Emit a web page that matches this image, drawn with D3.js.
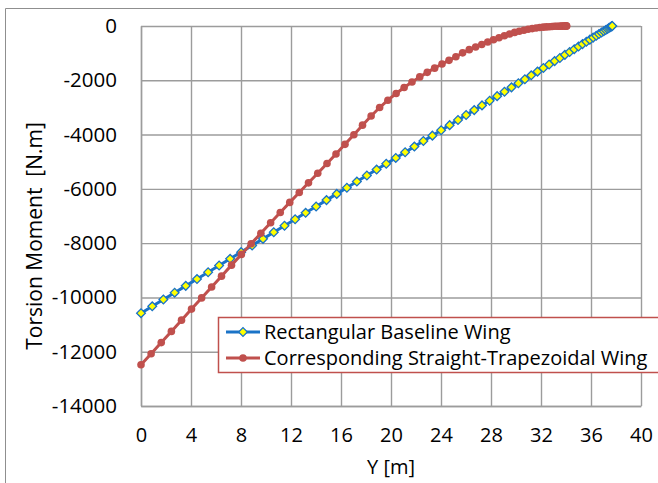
<!DOCTYPE html>
<html>
<head>
<meta charset="utf-8">
<script src="https://cdn.jsdelivr.net/npm/d3@7"></script>
<style>
  html, body { margin: 0; padding: 0; background: #fff; }
  svg { display: block; font-family: "Open Sans", Lato, sans-serif; }
</style>
</head>
<body>
<svg id="chart" width="658" height="483"></svg>
<script>
// ---- data ----
const xTicks = [0, 4, 8, 12, 16, 20, 24, 28, 32, 36, 40];
const yTicks = [0, -2000, -4000, -6000, -8000, -10000, -12000, -14000];

const rectY = [0, 0.90, 1.79, 2.69, 3.58, 4.48, 5.37, 6.25, 7.13, 8.01, 8.89, 9.76, 10.62, 11.48, 12.33,
  13.17, 14.01, 14.84, 15.66, 16.47, 17.27, 18.07, 18.85, 19.62, 20.38, 21.13, 21.87, 22.59, 23.31, 24.01,
  24.69, 25.36, 26.01, 26.66, 27.28, 27.89, 28.49, 29.08, 29.64, 30.19, 30.71, 31.22, 31.72, 32.19, 32.65,
  33.09, 33.51, 33.91, 34.29, 34.66, 35.00, 35.32, 35.63, 35.91, 36.17, 36.42, 36.64, 36.84, 37.02, 37.18,
  37.32, 37.43, 37.53, 37.60, 37.66, 37.69, 37.70];
const rectM = [-10580, -10328, -10077, -9825, -9574, -9324, -9074, -8825, -8578, -8331, -8086, -7842, -7599,
  -7358, -7120, -6883, -6648, -6415, -6185, -5957, -5732, -5510, -5290, -5073, -4860, -4650, -4443, -4239,
  -4039, -3842, -3652, -3464, -3281, -3099, -2925, -2753, -2584, -2420, -2261, -2108, -1960, -1817, -1680,
  -1546, -1417, -1294, -1177, -1063, -956, -854, -758, -667, -582, -502, -428, -360, -298, -242, -191, -147,
  -108, -75, -48, -27, -12, -3, 0];

const trapY = [0, 0.81, 1.62, 2.43, 3.24, 4.04, 4.85, 5.65, 6.44, 7.24, 8.03, 8.81, 9.59, 10.37, 11.14,
  11.90, 12.66, 13.40, 14.14, 14.88, 15.60, 16.32, 17.03, 17.72, 18.41, 19.09, 19.75, 20.41, 21.05, 21.68,
  22.30, 22.90, 23.49, 24.08, 24.64, 25.19, 25.73, 26.26, 26.77, 27.26, 27.74, 28.20, 28.64, 29.07, 29.49,
  29.89, 30.26, 30.63, 30.97, 31.30, 31.61, 31.90, 32.18, 32.43, 32.67, 32.89, 33.09, 33.27, 33.43, 33.58,
  33.70, 33.81, 33.90, 33.96, 34.01, 34.04, 34.05];
const trapM = [-12480, -12075, -11664, -11251, -10838, -10430, -10017, -9615, -9216, -8810, -8415, -8025,
  -7635, -7249, -6871, -6499, -6133, -5778, -5423, -5068, -4716, -4360, -4005, -3653, -3317, -3003, -2733,
  -2487, -2264, -2062, -1876, -1708, -1553, -1401, -1266, -1131, -990, -871, -774, -681, -589, -506, -431,
  -360, -297, -236, -193, -154, -118, -96, -75, -57, -43, -34, -25, -16, -11, -9, -7, -5, -4, -2, -1, -1,
  0, 0, 0];

const seriesNames = ["Rectangular Baseline Wing", "Corresponding Straight-Trapezoidal Wing"];
const xTitle = "Y [m]";
const yTitle = "Torsion Moment  [N.m]";

// ---- drawing ----
const svg = d3.select("#chart");
const m = { left: 141, right: 641, top: 26, bottom: 406 };
const x = d3.scaleLinear().domain([0, 40]).range([m.left, m.right]);
const y = d3.scaleLinear().domain([-14000, 0]).range([m.bottom, m.top]);

const BLUE = "#1a73c7", RED = "#c0504d", GRID = "#9c9c9c";
const FONT = "'Open Sans', Lato, sans-serif";

// outer chart frame (left / top visible)
svg.append("path")
  .attr("d", "M5.5,483 L5.5,8.5 L658,8.5")
  .attr("fill", "none").attr("stroke", "#8f8f8f").attr("stroke-width", 1);

// x axis with gridlines
const gx = svg.append("g")
  .attr("transform", `translate(0,${m.bottom})`)
  .call(d3.axisBottom(x).tickValues(xTicks).tickFormat(d => String(d))
    .tickSizeInner(-(m.bottom - m.top)).tickSizeOuter(0).tickPadding(22));
gx.select(".domain").attr("stroke", GRID).attr("stroke-width", 1.4);
gx.selectAll(".tick line").attr("stroke", GRID).attr("stroke-width", 1.4);
gx.selectAll(".tick text").attr("font-size", 20).attr("fill", "#000").attr("font-family", FONT);

// y axis with gridlines
const gy = svg.append("g")
  .attr("transform", `translate(${m.left},0)`)
  .call(d3.axisLeft(y).tickValues(yTicks).tickFormat(d => String(d))
    .tickSizeInner(-(m.right - m.left)).tickSizeOuter(0).tickPadding(24));
gy.select(".domain").attr("stroke", GRID).attr("stroke-width", 1.4);
gy.selectAll(".tick line").attr("stroke", GRID).attr("stroke-width", 1.4);
gy.selectAll(".tick text").attr("font-size", 20.5).attr("fill", "#000").attr("font-family", FONT);

// axis titles
svg.append("text")
  .attr("x", (m.left + m.right) / 2).attr("y", 474)
  .attr("text-anchor", "middle").attr("font-size", 20).attr("fill", "#000")
  .text(xTitle);
svg.append("text")
  .attr("transform", "translate(42,236) rotate(-90)")
  .attr("text-anchor", "middle").attr("font-size", 21).attr("fill", "#000")
  .attr("xml:space", "preserve").style("white-space", "pre")
  .text(yTitle);

const line = d3.line().x(d => x(d[0])).y(d => y(d[1]));
const rectData = rectY.map((v, i) => [v, rectM[i]]);
const trapData = trapY.map((v, i) => [v, trapM[i]]);

const diamondPath = d3.symbol().type(d3.symbolSquare).size(38);

// series 1: blue with yellow diamonds
svg.append("path").datum(rectData)
  .attr("d", line).attr("fill", "none").attr("stroke", BLUE).attr("stroke-width", 3);
svg.append("g").selectAll("path").data(rectData).join("path")
  .attr("d", diamondPath)
  .attr("transform", d => `translate(${x(d[0])},${y(d[1])}) rotate(45)`)
  .attr("fill", "#ffff00").attr("stroke", BLUE).attr("stroke-width", 1.3);

// series 2: red with circles
svg.append("path").datum(trapData)
  .attr("d", line).attr("fill", "none").attr("stroke", RED).attr("stroke-width", 3);
svg.append("g").selectAll("circle").data(trapData).join("circle")
  .attr("cx", d => x(d[0])).attr("cy", d => y(d[1])).attr("r", 3.8)
  .attr("fill", RED);

// legend
const lg = svg.append("g");
lg.append("rect").attr("x", 218.5).attr("y", 317.5).attr("width", 460).attr("height", 55)
  .attr("fill", "#fff").attr("stroke", RED).attr("stroke-width", 1.5);
const rows = [
  { name: seriesNames[0], color: BLUE, kind: "diamond", yy: 332 },
  { name: seriesNames[1], color: RED, kind: "circle", yy: 358 }
];
rows.forEach(r => {
  lg.append("line").attr("x1", 226).attr("x2", 260).attr("y1", r.yy).attr("y2", r.yy)
    .attr("stroke", r.color).attr("stroke-width", 3);
  if (r.kind === "diamond") {
    lg.append("path").attr("d", diamondPath)
      .attr("transform", `translate(243,${r.yy}) rotate(45)`)
      .attr("fill", "#ffff00").attr("stroke", BLUE).attr("stroke-width", 1.3);
  } else {
    lg.append("circle").attr("cx", 243).attr("cy", r.yy).attr("r", 3.8).attr("fill", RED);
  }
  lg.append("text").attr("x", 264).attr("y", r.yy).attr("dy", "0.36em")
    .attr("font-size", 20).attr("fill", "#000").text(r.name);
});
</script>
</body>
</html>
